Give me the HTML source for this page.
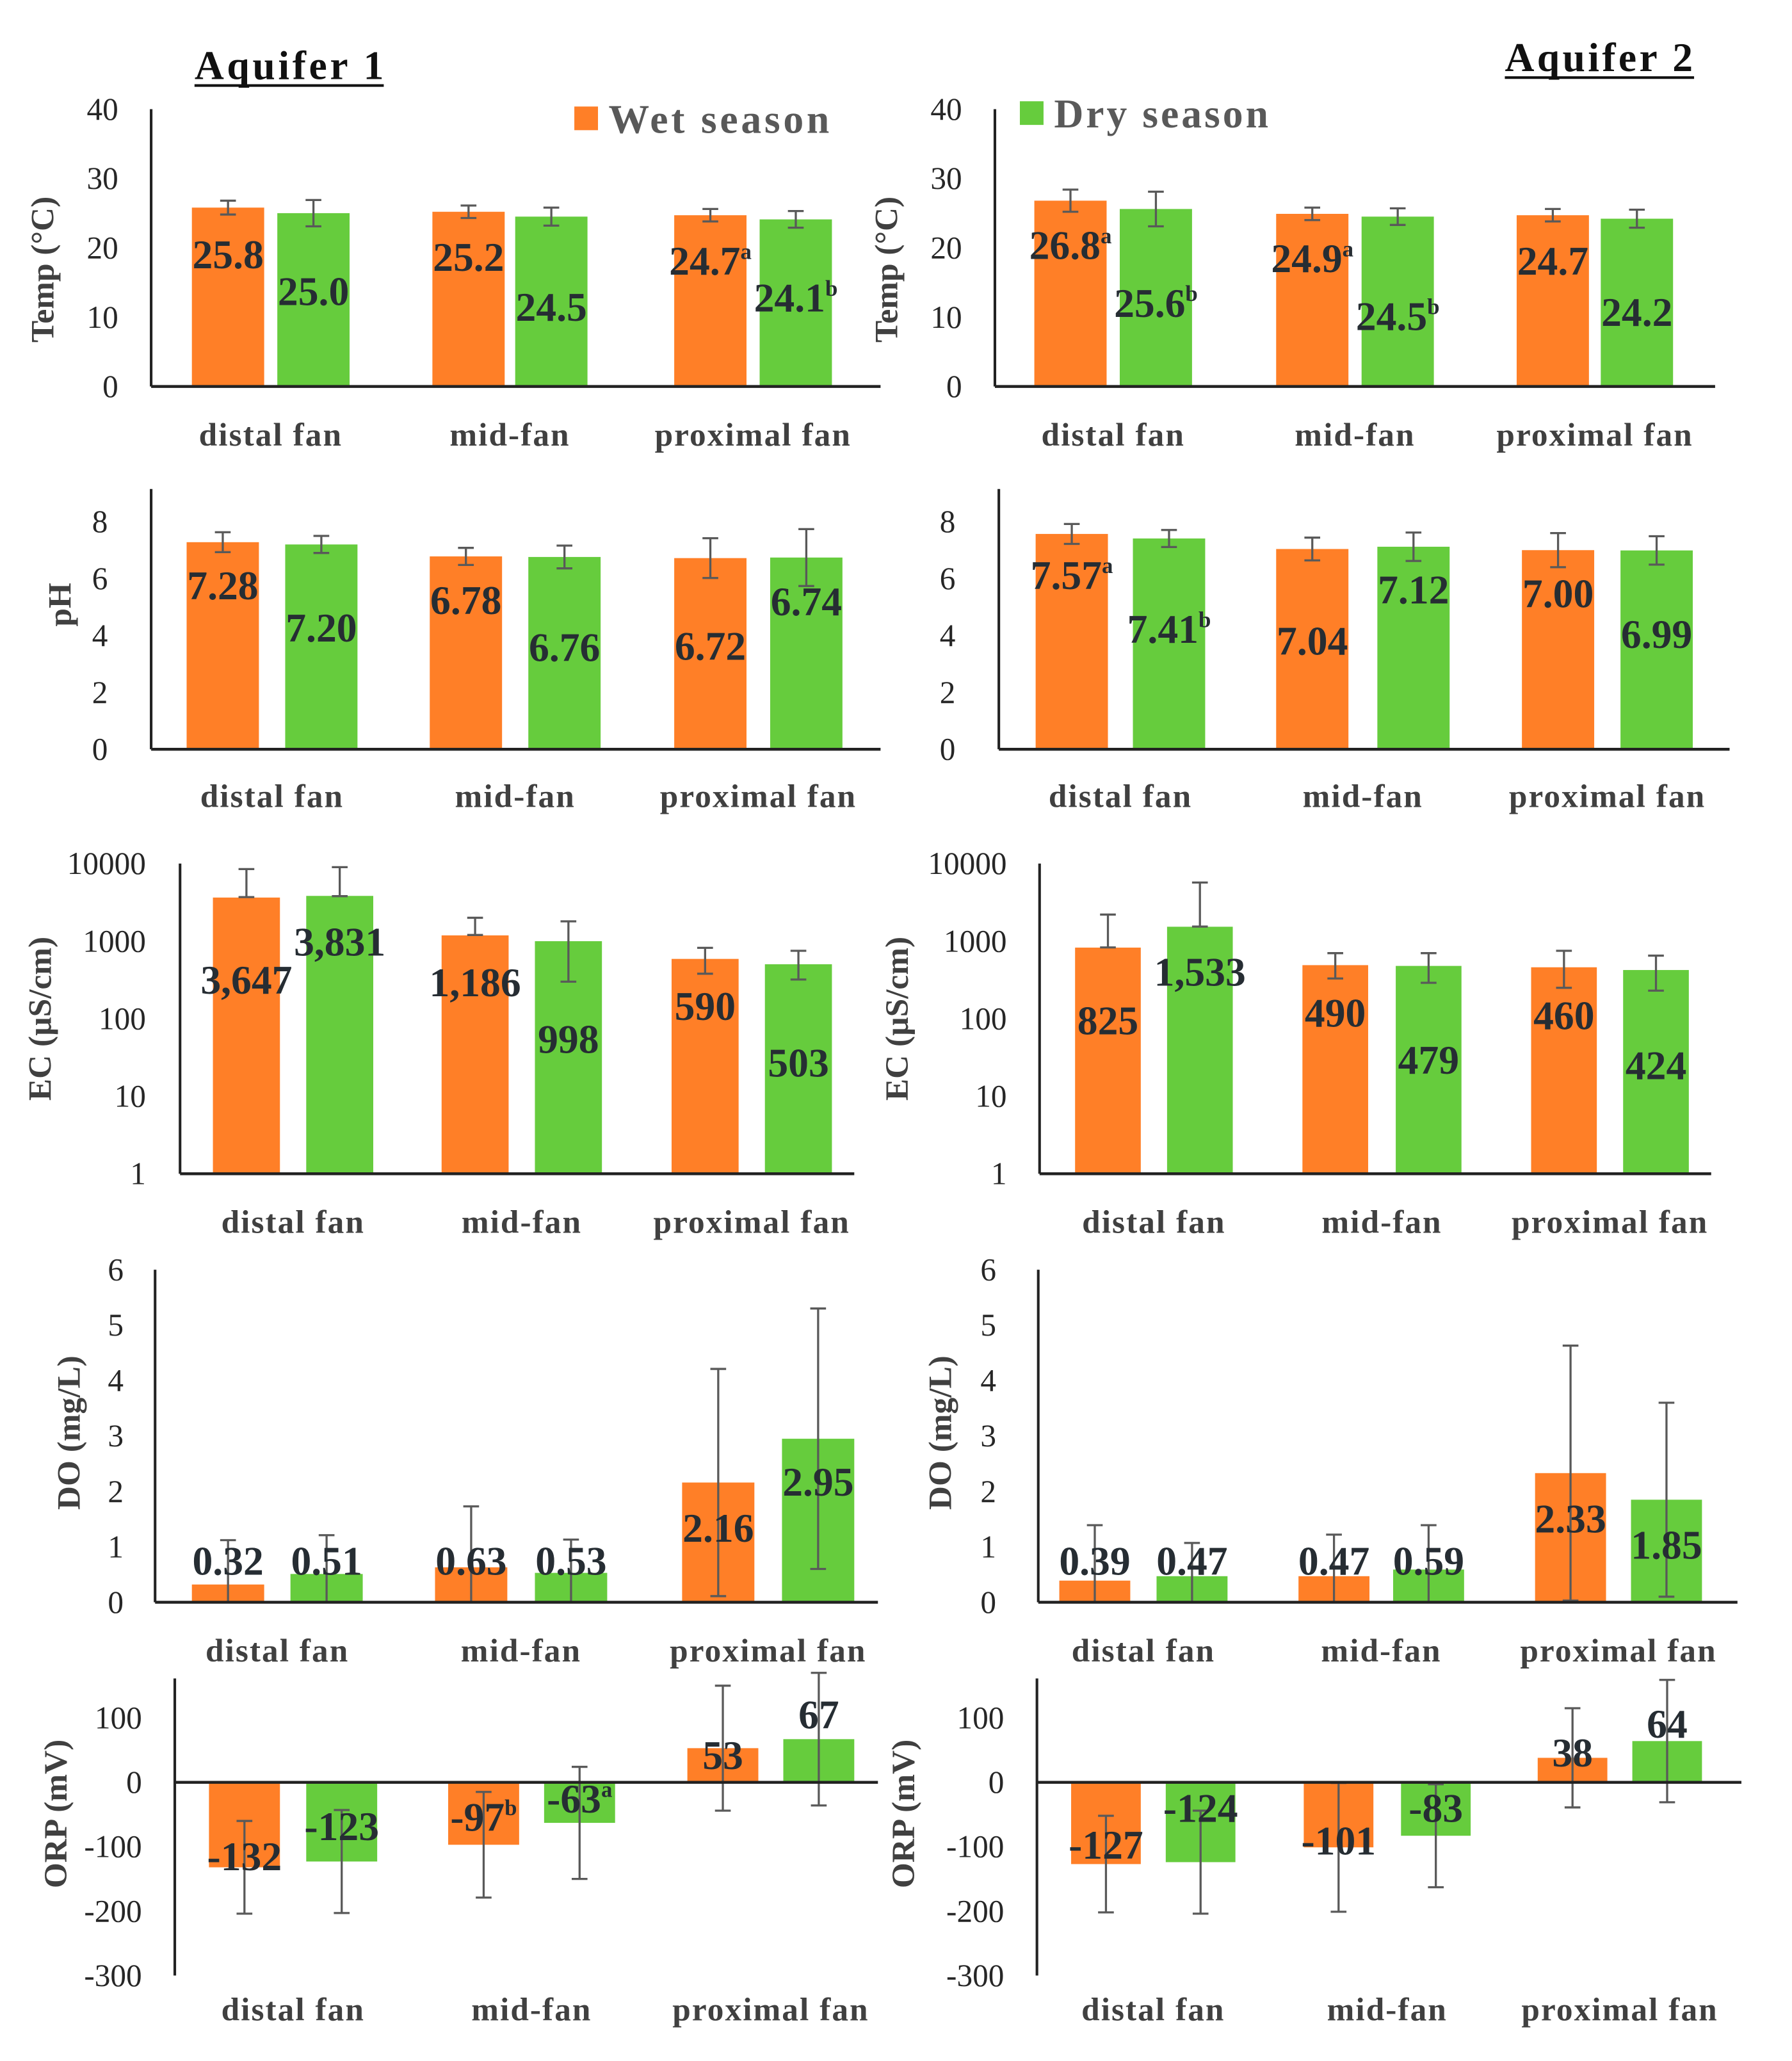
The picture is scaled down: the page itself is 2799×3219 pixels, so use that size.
<!DOCTYPE html>
<html><head><meta charset="utf-8"><style>
html,body{margin:0;padding:0;background:#fff}
svg{display:block}
text{font-family:"Liberation Serif",serif}
</style></head><body>
<svg id="fig" width="2799" height="3219" viewBox="0 0 1363.5 1568" xmlns="http://www.w3.org/2000/svg"></svg>
<script>
// ---- data ----
const categories = ["distal fan","mid-fan","proximal fan"];
const seriesNames = ["Wet season","Dry season"];
// Temp
const tempA1Wet=[25.8,25.2,24.7], tempA1Dry=[25.0,24.5,24.1];
const tempA1WetErr=[1.0,0.9,0.9], tempA1DryErr=[1.9,1.3,1.2];
const tempA2Wet=[26.8,24.9,24.7], tempA2Dry=[25.6,24.5,24.2];
const tempA2WetErr=[1.6,0.9,0.9], tempA2DryErr=[2.5,1.2,1.3];
const tempTicks=[0,10,20,30,40];
// pH
const phA1Wet=[7.28,6.78,6.72], phA1Dry=[7.20,6.76,6.74];
const phA1WetErr=[0.35,0.3,0.7], phA1DryErr=[0.3,0.4,1.0];
const phA2Wet=[7.57,7.04,7.00], phA2Dry=[7.41,7.12,6.99];
const phA2WetErr=[0.35,0.4,0.6], phA2DryErr=[0.3,0.5,0.5];
const phTicks=[0,2,4,6,8];
// EC (log)
const ecA1Wet=[3647,1186,590], ecA1Dry=[3831,998,503];
const ecA1WetLo=[3700,1200,380], ecA1WetHi=[8500,2000,820];
const ecA1DryLo=[3800,300,320], ecA1DryHi=[9000,1800,750];
const ecA2Wet=[825,490,460], ecA2Dry=[1533,479,424];
const ecA2WetLo=[830,330,250], ecA2WetHi=[2200,700,750];
const ecA2DryLo=[1540,290,230], ecA2DryHi=[5700,700,650];
const ecTicks=[1,10,100,1000,10000];
// DO
const doA1Wet=[0.32,0.63,2.16], doA1Dry=[0.51,0.53,2.95];
const doA1WetErr=[0.8,1.1,2.05], doA1DryErr=[0.7,0.6,2.35];
const doA2Wet=[0.39,0.47,2.33], doA2Dry=[0.47,0.59,1.85];
const doA2WetErr=[1.0,0.75,2.3], doA2DryErr=[0.6,0.8,1.75];
const doTicks=[0,1,2,3,4,5,6];
// ORP
const orpA1Wet=[-132,-97,53], orpA1Dry=[-123,-63,67];
const orpA1WetErr=[72,82,97], orpA1DryErr=[80,87,103];
const orpA2Wet=[-127,-101,38], orpA2Dry=[-124,-83,64];
const orpA2WetErr=[75,100,77], orpA2DryErr=[80,80,95];
const orpTicks=[-300,-200,-100,0,100];
// label formats / superscripts
const tempA1Sup=[["","","a"],["","","b"]], tempA2Sup=[["a","a",""],["b","b",""]];
const phA2Sup=[["a","",""],["b","",""]];
const orpA1Sup=[["","b",""],["","a",""]];
const none=[["","",""],["","",""]];

// ---- layout (pixel positions only) ----
const panels=[
 {name:"temp-aquifer1",title:"Temp (°C)",tx:35,ty:205,ax:115,right:670,y0:294,yTop:83,min:0,max:40,ticks:tempTicks,wet:tempA1Wet,dry:tempA1Dry,we:[tempA1Wet.map((v,i)=>v-tempA1WetErr[i]),tempA1Wet.map((v,i)=>v+tempA1WetErr[i])],de:[tempA1Dry.map((v,i)=>v-tempA1DryErr[i]),tempA1Dry.map((v,i)=>v+tempA1DryErr[i])],bx:[[146,211],[329,392],[513,578]],bw:55,lab:[[193,195,198],[221,233,226]],sup:tempA1Sup,fmt:v=>v.toFixed(1),tickEnd:90,catY:330},
 {name:"temp-aquifer2",title:"Temp (°C)",tx:677,ty:205,ax:757,right:1305,y0:294,yTop:83,min:0,max:40,ticks:tempTicks,wet:tempA2Wet,dry:tempA2Dry,we:[tempA2Wet.map((v,i)=>v-tempA2WetErr[i]),tempA2Wet.map((v,i)=>v+tempA2WetErr[i])],de:[tempA2Dry.map((v,i)=>v-tempA2DryErr[i]),tempA2Dry.map((v,i)=>v+tempA2DryErr[i])],bx:[[787,852],[971,1036],[1154,1218]],bw:55,lab:[[186,196,198],[230,240,237]],sup:tempA2Sup,fmt:v=>v.toFixed(1),tickEnd:732,catY:330},
 {name:"ph-aquifer1",title:"pH",tx:48,ty:460,ax:115,right:670,y0:570,yTop:372,min:0,max:9.15,ticks:phTicks,wet:phA1Wet,dry:phA1Dry,we:[phA1Wet.map((v,i)=>v-phA1WetErr[i]),phA1Wet.map((v,i)=>v+phA1WetErr[i])],de:[phA1Dry.map((v,i)=>v-phA1DryErr[i]),phA1Dry.map((v,i)=>v+phA1DryErr[i])],bx:[[142,217],[327,402],[513,586]],bw:55,lab:[[445,456,491],[477,492,457]],sup:none,fmt:v=>v.toFixed(2),tickEnd:82,catY:605},
 {name:"ph-aquifer2",title:"",tx:703,ty:460,ax:760,right:1316,y0:570,yTop:372,min:0,max:9.15,ticks:phTicks,wet:phA2Wet,dry:phA2Dry,we:[phA2Wet.map((v,i)=>v-phA2WetErr[i]),phA2Wet.map((v,i)=>v+phA2WetErr[i])],de:[phA2Dry.map((v,i)=>v-phA2DryErr[i]),phA2Dry.map((v,i)=>v+phA2DryErr[i])],bx:[[788,862],[971,1048],[1158,1233]],bw:55,lab:[[437,487,451],[478,448,482]],sup:phA2Sup,fmt:v=>v.toFixed(2),tickEnd:727,catY:605},
 {name:"ec-aquifer1",title:"EC (µS/cm)",tx:33,ty:775,ax:137,right:650,y0:893,yTop:657,log:true,min:0,max:4,ticks:ecTicks,wet:ecA1Wet,dry:ecA1Dry,we:[ecA1WetLo,ecA1WetHi],de:[ecA1DryLo,ecA1DryHi],bx:[[162,233],[336,407],[511,582]],bw:51,lab:[[745,747,765],[716,790,808]],sup:none,fmt:v=>v.toLocaleString("en-US"),tickEnd:111,catY:929},
 {name:"ec-aquifer2",title:"EC (µS/cm)",tx:685,ty:775,ax:791,right:1302,y0:893,yTop:657,log:true,min:0,max:4,ticks:ecTicks,wet:ecA2Wet,dry:ecA2Dry,we:[ecA2WetLo,ecA2WetHi],de:[ecA2DryLo,ecA2DryHi],bx:[[818,888],[991,1062],[1165,1235]],bw:50,lab:[[776,770,772],[739,806,810]],sup:none,fmt:v=>v.toLocaleString("en-US"),tickEnd:766,catY:929},
 {name:"do-aquifer1",title:"DO (mg/L)",tx:55,ty:1090,ax:118,right:668,y0:1219,yTop:966,min:0,max:6,ticks:doTicks,wet:doA1Wet,dry:doA1Dry,we:[doA1Wet.map((v,i)=>Math.max(0,v-doA1WetErr[i])),doA1Wet.map((v,i)=>v+doA1WetErr[i])],de:[doA1Dry.map((v,i)=>Math.max(0,v-doA1DryErr[i])),doA1Dry.map((v,i)=>v+doA1DryErr[i])],bx:[[146,221],[331,407],[519,595]],bw:55,lab:[[1187,1187,1162],[1187,1187,1127]],sup:none,fmt:v=>v.toFixed(2),tickEnd:94,catY:1255},
 {name:"do-aquifer2",title:"DO (mg/L)",tx:718,ty:1090,ax:790,right:1322,y0:1219,yTop:966,min:0,max:6,ticks:doTicks,wet:doA2Wet,dry:doA2Dry,we:[doA2Wet.map((v,i)=>Math.max(0,v-doA2WetErr[i])),doA2Wet.map((v,i)=>v+doA2WetErr[i])],de:[doA2Dry.map((v,i)=>Math.max(0,v-doA2DryErr[i])),doA2Dry.map((v,i)=>v+doA2DryErr[i])],bx:[[806,880],[988,1060],[1168,1241]],bw:54,lab:[[1187,1187,1155],[1187,1187,1175]],sup:none,fmt:v=>v.toFixed(2),tickEnd:758,catY:1255},
 {name:"orp-aquifer1",title:"ORP (mV)",tx:45,ty:1380,ax:133,right:668,y0:1356,yTop:1277,zeroAxis:true,bottom:1503,min:-300,max:160,ticks:orpTicks,wet:orpA1Wet,dry:orpA1Dry,we:[orpA1Wet.map((v,i)=>v-orpA1WetErr[i]),orpA1Wet.map((v,i)=>v+orpA1WetErr[i])],de:[orpA1Dry.map((v,i)=>v-orpA1DryErr[i]),orpA1Dry.map((v,i)=>v+orpA1DryErr[i])],bx:[[159,233],[341,414],[523,596]],bw:54,lab:[[1412,1382,1335],[1389,1368,1304]],sup:orpA1Sup,fmt:v=>String(v),tickEnd:108,catY:1528},
 {name:"orp-aquifer2",title:"ORP (mV)",tx:690,ty:1380,ax:789,right:1325,y0:1356,yTop:1277,zeroAxis:true,bottom:1503,min:-300,max:160,ticks:orpTicks,wet:orpA2Wet,dry:orpA2Dry,we:[orpA2Wet.map((v,i)=>v-orpA2WetErr[i]),orpA2Wet.map((v,i)=>v+orpA2WetErr[i])],de:[orpA2Dry.map((v,i)=>v-orpA2DryErr[i]),orpA2Dry.map((v,i)=>v+orpA2DryErr[i])],bx:[[815,887],[992,1066],[1170,1242]],bw:53,lab:[[1403,1400,1333],[1375,1375,1311]],sup:none,fmt:v=>String(v),tickEnd:764,catY:1528}
];
const COLORS=["#FF7F27","#66CC3D"];
const svg=document.getElementById('fig');
const NS="http://www.w3.org/2000/svg";
function mk(tag,attrs,parent){const e=document.createElementNS(NS,tag);for(const k in attrs)e.setAttribute(k,attrs[k]);(parent||svg).appendChild(e);return e;}

panels.forEach(p=>{
  const g=mk('g',{});
  
  
  let yS;
  if(p.log){const top=p.yTop;yS=v=>p.y0-(Math.log10(v)-p.min)/(p.max-p.min)*(p.y0-top);}
  else if(p.zeroAxis){const u=(p.bottom-p.y0)/(0-p.min);yS=v=>p.y0-v*u;}
  else{yS=v=>p.y0-(v-p.min)/(p.max-p.min)*(p.y0-p.yTop);}
  const base=p.log?yS(1):yS(0);
  [p.wet,p.dry].forEach((vals,s)=>{
    const errs=s===0?p.we:p.de;
    vals.forEach((v,i)=>{
      const x=p.bx[i][s], yt=yS(v);
      const r=mk('rect',{x:x,y:Math.min(yt,base),width:p.bw,height:Math.abs(base-yt),fill:COLORS[s]},g);
      
      
      const cx=x+p.bw/2, lo=yS(errs[0][i]), hi=yS(errs[1][i]);
      const eb=mk('path',{d:`M${cx},${lo}V${hi}M${cx-6},${lo}H${cx+6}M${cx-6},${hi}H${cx+6}`,stroke:"#595959","stroke-width":1.6,fill:"none"},g);
      
      
    });
  });
  const yBot=p.zeroAxis?p.bottom:p.y0;
  const ya=mk('line',{x1:p.ax,y1:p.yTop,x2:p.ax,y2:yBot,stroke:"#222","stroke-width":2},g);
  
  
  const xa=mk('line',{x1:p.ax,y1:p.y0,x2:p.right,y2:p.y0,stroke:"#222","stroke-width":2.2},g);
  
  
  p.ticks.forEach(t=>{
    const tl=mk('text',{x:p.tickEnd,y:yS(t)+8,'text-anchor':'end','font-size':24,fill:'#262626'},g);
    tl.textContent=String(t);
    
    
  });
  categories.forEach((c,i)=>{
    const cx=(p.bx[i][0]+p.bx[i][1]+p.bw)/2;
    const cl=mk('text',{x:cx,y:p.catY+9,'text-anchor':'middle','font-size':25,'font-weight':'bold',fill:'#404040','letter-spacing':'1'},g);
    cl.textContent=c;
    
    
  });
  if(p.title){
    const at=mk('text',{x:p.tx,y:p.ty,'text-anchor':'middle','font-size':25,'font-weight':'bold',fill:'#404040',transform:`rotate(-90 ${p.tx} ${p.ty})`,'dominant-baseline':'middle'},g);
    at.textContent=p.title;
    
    
  }
  [p.wet,p.dry].forEach((vals,s)=>{
    vals.forEach((v,i)=>{
      const cx=p.bx[i][s]+p.bw/2;
      const vl=mk('text',{x:cx,y:p.lab[s][i]+11,'text-anchor':'middle','font-size':31,'font-weight':'bold',fill:'#262d33'},g);
      vl.textContent=p.fmt(v);
      const sp=p.sup[s][i];
      if(sp){const ts=mk('tspan',{'font-size':17,dy:-12},vl);ts.textContent=sp;}
      
      
    });
  });
});
const t1=mk('text',{x:148,y:60,'font-size':31,'font-weight':'bold',fill:'#111',textLength:144,lengthAdjust:'spacing'});t1.textContent="Aquifer 1";


mk('line',{x1:148,y1:65,x2:292,y2:65,stroke:'#111','stroke-width':2});
const t2=mk('text',{x:1145,y:54,'font-size':31,'font-weight':'bold',fill:'#111',textLength:143,lengthAdjust:'spacing'});t2.textContent="Aquifer 2";


mk('line',{x1:1145,y1:59,x2:1289,y2:59,stroke:'#111','stroke-width':2});
const lg1=mk('g',{});


mk('rect',{x:437,y:81,width:18,height:18,fill:COLORS[0]},lg1);
const lt1=mk('text',{x:463,y:101,'font-size':31,'font-weight':'bold',fill:'#595959',textLength:168,lengthAdjust:'spacing'},lg1);lt1.textContent=seriesNames[0];
const lg2=mk('g',{});


mk('rect',{x:776,y:77,width:18,height:18,fill:COLORS[1]},lg2);
const lt2=mk('text',{x:802,y:97,'font-size':31,'font-weight':'bold',fill:'#595959',textLength:163,lengthAdjust:'spacing'},lg2);lt2.textContent=seriesNames[1];
</script>
</body></html>
